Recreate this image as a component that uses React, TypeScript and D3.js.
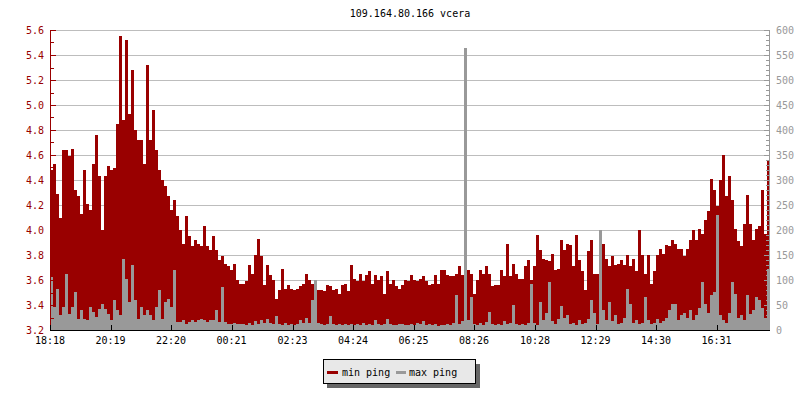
import React from 'react';
import * as d3 from 'd3';

const TITLE = '109.164.80.166 vcera';
const START = '18:18';
const BIN_MIN = 6;
const tickLabels = ['18:18', '20:19', '22:20', '00:21', '02:23', '04:24', '06:25', '08:26', '10:28', '12:29', '14:30', '16:31'];
const seriesNames = ['min ping', 'max ping'];

// min ping (left axis, 6-minute bins)
const minPing = [
  4.48, 4.53, 4.29, 4.1, 4.64, 4.64, 4.59, 4.65, 4.32, 4.27,
  4.13, 4.48, 4.21, 4.16, 4.53, 4.76, 4.43, 4.0, 4.43, 4.51,
  4.48, 4.5, 4.85, 5.55, 4.88, 5.52, 4.93, 5.28, 4.8, 4.72,
  4.72, 4.53, 5.32, 4.72, 4.96, 4.64, 4.48, 4.4, 4.35, 4.27,
  4.16, 4.24, 4.11, 4.0, 3.89, 4.11, 3.95, 3.87, 3.92, 3.89,
  3.87, 4.03, 3.87, 3.84, 3.95, 3.84, 3.76, 3.79, 3.73, 3.71,
  3.68, 3.73, 3.6, 3.57,
  3.57, 3.59, 3.72, 3.65, 3.8, 3.93, 3.79, 3.56, 3.72, 3.64,
  3.6, 3.45, 3.52, 3.69, 3.53, 3.56, 3.53, 3.52, 3.53, 3.55,
  3.57, 3.65, 3.6, 3.57, 3.6, 3.52, 3.52, 3.51, 3.56, 3.55,
  3.52, 3.53, 3.49, 3.56, 3.57, 3.51, 3.72, 3.61, 3.59, 3.65,
  3.59, 3.64, 3.67, 3.57, 3.64, 3.6, 3.63, 3.49, 3.67, 3.57,
  3.6, 3.55, 3.53, 3.56, 3.6, 3.59, 3.64, 3.6, 3.59, 3.61,
  3.63, 3.59, 3.56,
  3.57, 3.64, 3.57, 3.68, 3.68, 3.64, 3.63, 3.63, 3.65, 3.71,
  3.64, 3.83, 3.68, 3.65, 3.49, 3.6, 3.68, 3.65, 3.71, 3.65,
  3.55, 3.56, 3.56, 3.68, 3.63, 3.89, 3.63, 3.73, 3.65, 3.61,
  3.61, 3.71, 3.76, 3.6, 3.71, 3.96, 3.84, 3.77, 3.76, 3.75,
  3.81, 3.68, 3.69, 3.92, 3.84, 3.89, 3.88, 3.71, 3.96, 3.76,
  3.67, 3.52, 3.83, 3.92, 3.65, 3.65, 3.72, 3.89, 3.77, 3.71,
  3.79, 3.72, 3.73, 3.76, 3.72, 3.8, 3.71, 3.77, 3.67, 4.0,
  3.8,
  3.65, 3.8, 3.57, 3.67, 3.8, 3.85, 3.81, 3.88, 3.87, 3.92,
  3.89, 3.85, 3.85, 3.79, 3.85, 3.92, 4.0, 3.92, 4.01, 3.97,
  4.08, 4.15, 4.41, 4.32, 4.19, 4.4, 4.6, 4.27, 4.43, 4.24,
  4.01, 3.91, 3.87, 4.05, 4.28, 4.05, 3.92, 4.01, 4.03, 4.32,
  3.97, 4.56,
];

// max ping (right axis, ms)
const maxPing = [
  107, 47, 83, 30, 47, 113, 33, 47, 77, 23,
  40, 23, 20, 47, 37, 27, 43, 53, 43, 33,
  20, 60, 40, 30, 143, 103, 57, 130, 60, 23,
  47, 30, 40, 30, 20, 47, 80, 23, 57, 63,
  47, 120, 17, 17, 20, 13, 17, 20, 17, 20,
  23, 20, 17, 20, 20, 40, 17, 87, 17, 13,
  13, 15, 13, 13,
  12, 10, 14, 11, 18, 12, 20, 15, 22, 14,
  12, 28, 12, 10, 14, 11, 13, 10, 12, 20,
  15, 25, 14, 60, 100, 14, 12, 10, 13, 28,
  12, 10, 13, 11, 12, 10, 13, 11, 12, 10,
  14, 11, 12, 10, 20, 12, 10, 13, 22, 12,
  11, 10, 13, 12, 10, 11, 12, 10, 15, 12,
  18, 11, 12,
  10, 12, 9, 11, 10, 13, 10, 14, 70, 12,
  18, 564, 20, 67, 12, 10, 14, 11, 16, 37,
  12, 10, 13, 11, 18, 12, 14, 50, 12, 10,
  12, 10, 14, 93, 15, 11, 57, 20, 35, 97,
  18, 13, 22, 48, 25, 30, 12, 14, 10, 20,
  13, 15, 22, 60, 35, 12, 201, 40, 20, 57,
  18, 30, 12, 14, 25, 83, 53, 15, 20, 12,
  14,
  67, 20, 12, 15, 22, 14, 18, 25, 40, 53,
  53, 20, 30, 35, 25, 40, 20, 30, 45, 97,
  53, 35, 70, 77, 230, 30, 20, 15, 35, 97,
  73, 25, 30, 20, 70, 33, 40, 67, 60, 45,
  25, 123,
];

const RED = '#990000';
const GREY = '#999999';
const FONT = '"DejaVu Sans Mono", "Liberation Mono", monospace';

const toMin = (s: string) => {
  const [h, m] = s.split(':').map(Number);
  return h * 60 + m;
};

export default function App() {
  const L = 50, R = 770, T = 30, B = 330;
  const total = minPing.length * BIN_MIN;
  const x = d3.scaleLinear().domain([0, total]).range([L, R]);
  const yL = d3.scaleLinear().domain([3.2, 5.6]).range([B, T]);
  const yR = d3.scaleLinear().domain([0, 600]).range([B, T]);

  const pts = (arr: number[]) => [
    ...arr.map((v, i) => [i * BIN_MIN, v] as [number, number]),
    [arr.length * BIN_MIN, arr[arr.length - 1]] as [number, number],
  ];
  const areaMin = d3.area<[number, number]>()
    .x(d => x(d[0])).y0(yL(3.2)).y1(d => yL(d[1])).curve(d3.curveStepAfter);
  const areaMax = d3.area<[number, number]>()
    .x(d => x(d[0])).y0(yR(0)).y1(d => yR(d[1])).curve(d3.curveStepAfter);

  const start = toMin(START);
  const xTicks = tickLabels.map(l => ({ l, t: (toMin(l) - start + 1440) % 1440 }));

  const lMajor = yL.ticks(12);
  const lMinor = yL.ticks(24);
  const rMajor = yR.ticks(12);
  const rMinor = yR.ticks(60);

  return (
    <svg width={800} height={400} style={{ position: 'absolute', left: 0, top: 0, background: '#fff' }}
      fontFamily={FONT} fontSize={10}>
      <rect x={0} y={0} width={800} height={400} fill="#fff" />
      <text x={(L + R) / 2} y={17} textAnchor="middle" fill="#000">{TITLE}</text>
      {/* grid */}
      <g shapeRendering="crispEdges">
        {lMajor.map(v => (
          <line key={'g' + v} x1={L} x2={R} y1={Math.round(yL(v)) + 0.5} y2={Math.round(yL(v)) + 0.5}
            stroke="#bdbdbd" strokeWidth={1} />
        ))}
      </g>
      {/* series */}
      <path d={areaMin(pts(minPing)) || ''} fill={RED} shapeRendering="crispEdges" />
      <path d={areaMax(pts(maxPing)) || ''} fill={GREY} shapeRendering="crispEdges" />
      {/* left axis */}
      <g shapeRendering="crispEdges" stroke={RED}>
        <line x1={L + 0.5} x2={L + 0.5} y1={T} y2={B} />
        {lMinor.map(v => (
          <line key={'lm' + v} x1={L} x2={L + 4} y1={Math.round(yL(v)) + 0.5} y2={Math.round(yL(v)) + 0.5} />
        ))}
        {lMajor.map(v => (
          <line key={'lM' + v} x1={L} x2={L + 6} y1={Math.round(yL(v)) + 0.5} y2={Math.round(yL(v)) + 0.5} />
        ))}
      </g>
      {lMajor.map(v => (
        <text key={'lt' + v} x={44} y={yL(v)} dy="0.35em" textAnchor="end" fill={RED}>{v.toFixed(1)}</text>
      ))}
      {/* right axis */}
      <g shapeRendering="crispEdges" stroke={GREY}>
        <line x1={R - 0.5} x2={R - 0.5} y1={T} y2={B} />
        {rMinor.map(v => (
          <line key={'rm' + v} x1={R - 4} x2={R} y1={Math.round(yR(v)) + 0.5} y2={Math.round(yR(v)) + 0.5} />
        ))}
        {rMajor.map(v => (
          <line key={'rM' + v} x1={R - 6} x2={R} y1={Math.round(yR(v)) + 0.5} y2={Math.round(yR(v)) + 0.5} />
        ))}
      </g>
      {rMajor.map(v => (
        <text key={'rt' + v} x={776} y={yR(v)} dy="0.35em" textAnchor="start" fill={GREY}>{v}</text>
      ))}
      {/* bottom axis */}
      <g shapeRendering="crispEdges" stroke="#000">
        <line x1={L} x2={R} y1={B + 0.5} y2={B + 0.5} />
        {xTicks.map(d => (
          <line key={'xt' + d.l} x1={Math.round(x(d.t)) + 0.5} x2={Math.round(x(d.t)) + 0.5} y1={B - 5} y2={B} />
        ))}
      </g>
      {xTicks.map(d => (
        <text key={'xl' + d.l} x={x(d.t)} y={344} textAnchor="middle" fill="#000">{d.l}</text>
      ))}
      {/* legend */}
      <g shapeRendering="crispEdges">
        <rect x={327} y={364} width={153} height={24} fill="#666" />
        <rect x={323.5} y={359.5} width={152} height={24} fill="#e8e8e8" stroke="#000" strokeWidth={1} />
        <line x1={327} x2={338} y1={372} y2={372} stroke={RED} strokeWidth={3} />
        <line x1={396} x2={406} y1={372} y2={372} stroke={GREY} strokeWidth={3} />
      </g>
      <text x={342} y={375.5} fill="#000">{seriesNames[0]}</text>
      <text x={409} y={375.5} fill="#000">{seriesNames[1]}</text>
    </svg>
  );
}
